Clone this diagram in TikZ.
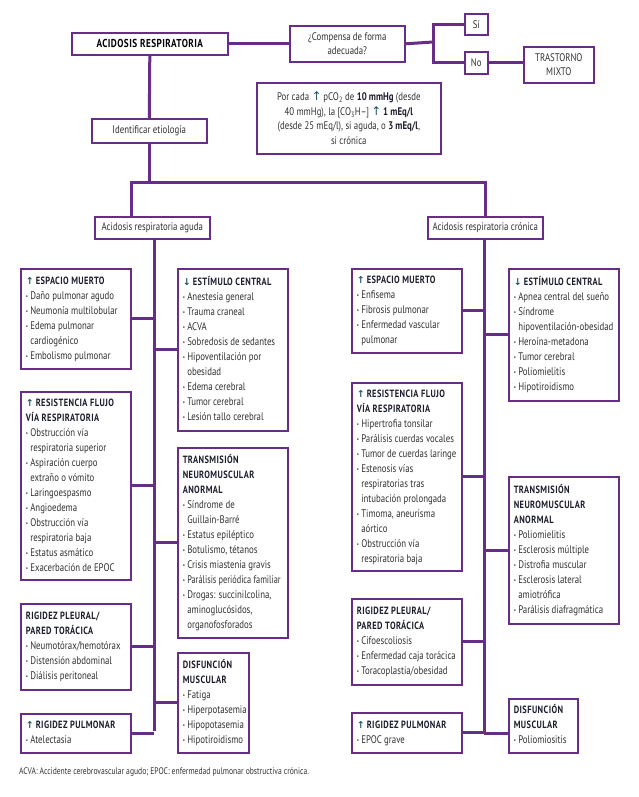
\documentclass[tikz,border=0pt]{standalone}
\usepackage{fontspec}
\usepackage{xcolor}
\usepackage{graphicx}
\setmainfont{PT Sans}[FakeStretch=0.80]
\newfontfamily\hfont{PT Sans}[FakeStretch=0.80,LetterSpace=4]
\newfontfamily\symfont{DejaVu Sans}
\definecolor{purp}{RGB}{104,45,135}
\definecolor{txt}{RGB}{50,50,50}
\definecolor{hdr}{RGB}{28,30,45}
\definecolor{arr}{RGB}{35,85,100}
\newcommand\up{{\symfont\color{arr}\fontsize{9.5}{10}\selectfont ↑}\hspace{2pt}}
\newcommand\dn{{\symfont\color{arr}\fontsize{9.5}{10}\selectfont ↓}\hspace{2pt}}
\newcommand\hd[1]{{\hfont\bfseries\color{hdr}\fontsize{10.5}{15}\selectfont #1}}
\newcommand\bu{\makebox[4.5pt][l]{\fontsize{6}{6}\selectfont\raisebox{1pt}{•}}}
\newcommand\ci{\hspace*{4.5pt}}
\newcommand\cnt[2]{\makebox[#1][l]{\begin{tabular}{@{}l@{}}#2\end{tabular}}}
\tikzset{
  box/.style={draw=purp, line width=1.6pt, anchor=north west, inner xsep=5pt, inner ysep=3pt,
    text=txt, font=\fontsize{11}{15}\selectfont},
  cbox/.style={draw=purp, line width=1.6pt, anchor=north west, inner xsep=3pt, inner ysep=2pt,
    align=center, text=txt, font=\fontsize{11}{14.5}\selectfont},
  conn/.style={draw=purp, line width=3pt},
}
\begin{document}
\begin{tikzpicture}[x=1pt,y=-1pt]
\useasboundingbox[fill=white] (0,0) rectangle (638,797);
% top row
\node[cbox, minimum width=156pt, minimum height=22pt] (acid) at (71,32)
  {{\hfont\bfseries\color{black}\fontsize{11.5}{14}\selectfont ACIDOSIS RESPIRATORIA}};
\node[cbox, minimum width=115pt, minimum height=36pt] (comp) at (289,25)
  {¿Compensa de forma\\adecuada?};
\node[cbox, minimum width=23pt, minimum height=21pt] (si) at (464,13) {Sí};
\node[cbox, minimum width=23pt, minimum height=22pt] (no) at (464,51) {No};
\node[cbox, minimum width=70pt, minimum height=36pt] (tras) at (523,46) {TRASTORNO\\MIXTO};
\node[cbox, minimum width=184pt, minimum height=71pt] (porc) at (256,82)
  {Por cada {\symfont\color{arr}\fontsize{12}{12}\selectfont ↑}\,pCO\textsubscript{2} de {\color{hdr}\bfseries 10 mmHg} (desde\\
   40 mmHg), la [CO\textsubscript{3}H–] {\symfont\color{arr}\fontsize{12}{12}\selectfont ↑}\,{\color{hdr}\bfseries 1 mEq/l}\\
   (desde 25 mEq/l), si aguda, o {\color{hdr}\bfseries 3 mEq/l},\\
   si crónica};
\node[cbox, minimum width=115pt, minimum height=24pt] (ident) at (91,118) {Identificar etiología};
\node[cbox, minimum width=115pt, minimum height=22pt] (aguda) at (94,216) {Acidosis respiratoria aguda};
\node[cbox, minimum width=115pt, minimum height=22pt] (cron) at (427,216) {Acidosis respiratoria crónica};
% top connectors
\coordinate (fk) at (433,42);
\draw[conn] (acid.east) -- (comp.west);
\draw[conn] (comp.east) -- (fk);
\draw[conn] (si.west) -- (si.west -| fk) -- (no.west -| fk) -- (no.west);
\draw[conn] (no.east) -- (no.east -| tras.west);
\coordinate (hL) at (131,182);
\coordinate (hR) at (485,182);
\draw[conn] (acid.south) -- (ident.north);
\draw[conn] (ident.south) -- (ident.south |- hL);
\draw[conn] (hL |- aguda.north) -- (hL) -- (hR) -- (hR |- cron.north);
% ---------------- left column (aguda)
\node[box, minimum height=100pt] (espA) at (20,268)
  {\cnt{100pt}{\hd{\up ESPACIO MUERTO}\\
   \bu Daño pulmonar agudo\\
   \bu Neumonía multilobular\\
   \bu Edema pulmonar\\
   \ci cardiogénico\\
   \bu Embolismo pulmonar}};
\node[box, minimum height=162pt] (estA) at (177,268)
  {\cnt{100pt}{\hd{\dn ESTÍMULO CENTRAL}\\
   \bu Anestesia general\\
   \bu Trauma craneal\\
   \bu ACVA\\
   \bu Sobredosis de sedantes\\
   \bu Hipoventilación por\\
   \ci obesidad\\
   \bu Edema cerebral\\
   \bu Tumor cerebral\\
   \bu Lesión tallo cerebral}};
\node[box, minimum height=188pt] (resA) at (20,391)
  {\cnt{100pt}{\hd{\up RESISTENCIA FLUJO}\\
   \hd{VÍA RESPIRATORIA}\\
   \bu Obstrucción vía\\
   \ci respiratoria superior\\
   \bu Aspiración cuerpo\\
   \ci extraño o vómito\\
   \bu Laringoespasmo\\
   \bu Angioedema\\
   \bu Obstrucción vía\\
   \ci respiratoria baja\\
   \bu Estatus asmático\\
   \bu Exacerbación de EPOC}};
\node[box, minimum height=190pt] (traA) at (177,447)
  {\cnt{100pt}{\hd{TRANSMISIÓN}\\
   \hd{NEUROMUSCULAR}\\
   \hd{ANORMAL}\\
   \bu Síndrome de\\
   \ci Guillain-Barré\\
   \bu Estatus epiléptico\\
   \bu Botulismo, tétanos\\
   \bu Crisis miastenia gravis\\
   \bu \scalebox{0.94}[1]{Parálisis periódica familiar}\\
   \bu Drogas: succinilcolina,\\
   \ci aminoglucósidos,\\
   \ci organofosforados}};
\node[box, minimum height=86pt] (rplA) at (20,603)
  {\cnt{100pt}{\hd{RIGIDEZ PLEURAL/}\\
   \hd{PARED TORÁCICA}\\
   \bu Neumotórax/hemotórax\\
   \bu Distensión abdominal\\
   \bu Diálisis peritoneal}};
\node[box, minimum height=100pt] (dfA) at (177,652)
  {\cnt{61pt}{\hd{DISFUNCIÓN}\\
   \hd{MUSCULAR}\\
   \bu Fatiga\\
   \bu Hiperpotasemia\\
   \bu Hipopotasemia\\
   \bu Hipotiroidismo}};
\node[box, minimum height=39pt] (rpuA) at (20,713)
  {\cnt{100pt}{\hd{\up RIGIDEZ PULMONAR}\\
   \bu Atelectasia}};
% left trunk
\coordinate (tA) at (154,731);
\draw[conn] (tA |- aguda.south) -- (tA);
\draw[conn] (espA.east) -- (espA.east -| tA);
\draw[conn] (resA.east) -- (resA.east -| tA);
\draw[conn] (rplA.east) -- (rplA.east -| tA);
\draw[conn] (rpuA.east) -- (rpuA.east -| tA);
\draw[conn] (estA.west) -- (estA.west -| tA);
\draw[conn] (traA.west) -- (traA.west -| tA);
\draw[conn] (dfA.west) -- (dfA.west -| tA);
% ---------------- right column (cronica)
\node[box, minimum height=84pt] (espC) at (351,268)
  {\cnt{100pt}{\hd{\up ESPACIO MUERTO}\\
   \bu Enfisema\\
   \bu Fibrosis pulmonar\\
   \bu Enfermedad vascular\\
   \ci pulmonar}};
\node[box, minimum height=132pt] (estC) at (508,268)
  {\cnt{100pt}{\hd{\dn ESTÍMULO CENTRAL}\\
   \bu Apnea central del sueño\\
   \bu Síndrome\\
   \ci hipoventilación-obesidad\\
   \bu Heroína-metadona\\
   \bu Tumor cerebral\\
   \bu Poliomielitis\\
   \bu Hipotiroidismo}};
\node[box, minimum height=188pt] (resC) at (351,382)
  {\cnt{100pt}{\hd{\up RESISTENCIA FLUJO}\\
   \hd{VÍA RESPIRATORIA}\\
   \bu Hipertrofia tonsilar\\
   \bu Parálisis cuerdas vocales\\
   \bu Tumor de cuerdas laringe\\
   \bu Estenosis vías\\
   \ci respiratorias tras\\
   \ci intubación prolongada\\
   \bu Timoma, aneurisma\\
   \ci aórtico\\
   \bu Obstrucción vía\\
   \ci respiratoria baja}};
\node[box, minimum height=147pt] (traC) at (508,476)
  {\cnt{100pt}{\hd{TRANSMISIÓN}\\
   \hd{NEUROMUSCULAR}\\
   \hd{ANORMAL}\\
   \bu Poliomielitis\\
   \bu Esclerosis múltiple\\
   \bu Distrofia muscular\\
   \bu Esclerosis lateral\\
   \ci amiotrófica\\
   \bu Parálisis diafragmática}};
\node[box, minimum height=86pt] (rplC) at (351,598)
  {\cnt{100pt}{\hd{RIGIDEZ PLEURAL/}\\
   \hd{PARED TORÁCICA}\\
   \bu Cifoescoliosis\\
   \bu Enfermedad caja torácica\\
   \bu Toracoplastia/obesidad}};
\node[box, minimum height=40pt] (rpuC) at (351,712)
  {\cnt{100pt}{\hd{\up RIGIDEZ PULMONAR}\\
   \bu EPOC grave}};
\node[box, minimum height=54pt] (dfC) at (508,698)
  {\cnt{59pt}{\hd{DISFUNCIÓN}\\
   \hd{MUSCULAR}\\
   \bu Poliomiositis}};
% right trunk
\coordinate (tC) at (484,733);
\draw[conn] (tC |- cron.south) -- (tC);
\draw[conn] (espC.east) -- (espC.east -| tC);
\draw[conn] (resC.east) -- (resC.east -| tC);
\draw[conn] (rplC.east) -- (rplC.east -| tC);
\draw[conn] (rpuC.east) -- (rpuC.east -| tC);
\draw[conn] (estC.west) -- (estC.west -| tC);
\draw[conn] (traC.west) -- (traC.west -| tC);
\draw[conn] (tC) -- (tC -| dfC.west);
% footer
\node[anchor=west, inner sep=0pt, text=txt, font=\fontsize{9.5}{10}\selectfont] (foot) at (19,772)
  {ACVA: Accidente cerebrovascular agudo; EPOC: enfermedad pulmonar obstructiva crónica.};
\end{tikzpicture}
\end{document}
